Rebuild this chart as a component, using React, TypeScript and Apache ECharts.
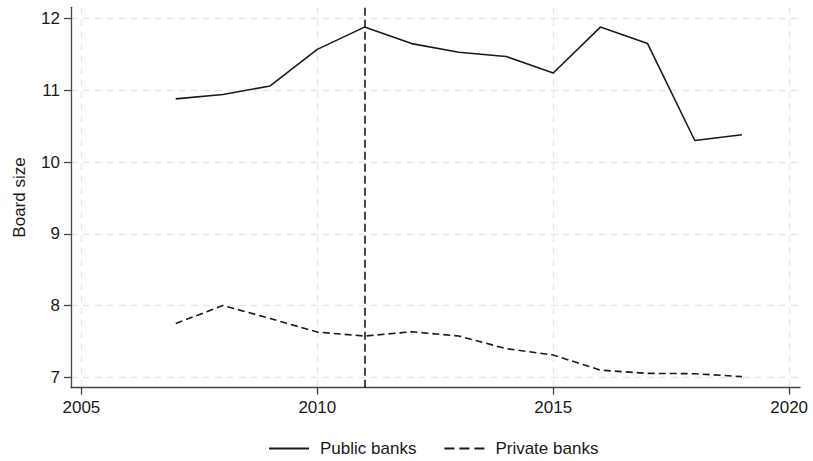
import React, { useEffect, useRef } from "react";
import * as echarts from "echarts";

const years = [2007, 2008, 2009, 2010, 2011, 2012, 2013, 2014, 2015, 2016, 2017, 2018, 2019];
const publicBanks = [10.88, 10.94, 11.06, 11.57, 11.88, 11.65, 11.53, 11.47, 11.24, 11.88, 11.65, 10.3, 10.38];
const privateBanks = [7.75, 8.0, 7.82, 7.63, 7.575, 7.635, 7.575, 7.4, 7.31, 7.1, 7.055, 7.05, 7.01];
const xTicks = [2005, 2010, 2015, 2020];
const yTicks = [7, 8, 9, 10, 11, 12];
const eventYear = 2011;

const FONT = "Liberation Sans, Arial, sans-serif";
const INK = "#1a1a1a";
const FS = 17;

export default function App() {
  const ref = useRef<HTMLDivElement>(null);
  useEffect(() => {
    if (!ref.current) return;
    const chart = echarts.init(ref.current, undefined, { renderer: "svg" });
    const axisCommon = {
      axisLine: { show: true, lineStyle: { color: "#444", width: 1.3 } },
      axisTick: { show: true, length: 7, lineStyle: { color: "#444", width: 1.3 } },
      splitLine: { show: true, lineStyle: { color: "#e8e8e8", type: [7, 5], width: 1.3 } },
    };
    chart.setOption({
      animation: false,
      backgroundColor: "#fff",
      grid: { left: 71, right: 13, top: 7.3, bottom: 73.3, containLabel: false },
      xAxis: {
        type: "value",
        min: 2004.78,
        max: 2020.23,
        ...axisCommon,
        axisTick: { ...axisCommon.axisTick, customValues: xTicks },
        axisLabel: {
          customValues: xTicks,
          margin: 11,
          fontSize: FS,
          color: INK,
          fontFamily: FONT,
          formatter: (v: number) => String(Math.round(v)),
        },
      },
      yAxis: {
        type: "value",
        min: 6.855,
        max: 12.156,
        name: "Board size",
        nameLocation: "middle",
        nameGap: 43,
        nameRotate: 90,
        nameTextStyle: { fontSize: FS, color: INK, fontFamily: FONT },
        ...axisCommon,
        axisTick: { ...axisCommon.axisTick, customValues: yTicks },
        axisLabel: {
          customValues: yTicks,
          margin: 11,
          fontSize: FS,
          color: INK,
          fontFamily: FONT,
          formatter: (v: number) => String(Math.round(v)),
        },
      },
      legend: {
        left: 268,
        top: 440,
        padding: 0,
        itemWidth: 40,
        itemHeight: 14,
        itemGap: 27,
        itemStyle: { opacity: 0 },
        textStyle: { fontSize: FS, color: INK, fontFamily: FONT, padding: [0, 0, 0, 6] },
        data: [
          { name: "Public banks" },
          { name: "Private banks", lineStyle: { type: [10, 5] } },
        ],
      },
      series: [
        {
          name: "Public banks",
          type: "line",
          symbol: "none",
          color: INK,
          lineStyle: { color: INK, width: 1.6 },
          data: years.map((y, i) => [y, publicBanks[i]]),
          markLine: {
            silent: true,
            symbol: "none",
            label: { show: false },
            lineStyle: { color: INK, width: 1.6, type: [8, 4] },
            data: [{ xAxis: eventYear }],
          },
        },
        {
          name: "Private banks",
          type: "line",
          symbol: "none",
          color: INK,
          lineStyle: { color: INK, width: 1.6, type: [7, 4] },
          data: years.map((y, i) => [y, privateBanks[i]]),
        },
      ],
    });
    return () => chart.dispose();
  }, []);
  return (
    <div
      ref={ref}
      style={{ position: "fixed", left: 0, top: 0, width: 813, height: 461, background: "#fff" }}
    />
  );
}
